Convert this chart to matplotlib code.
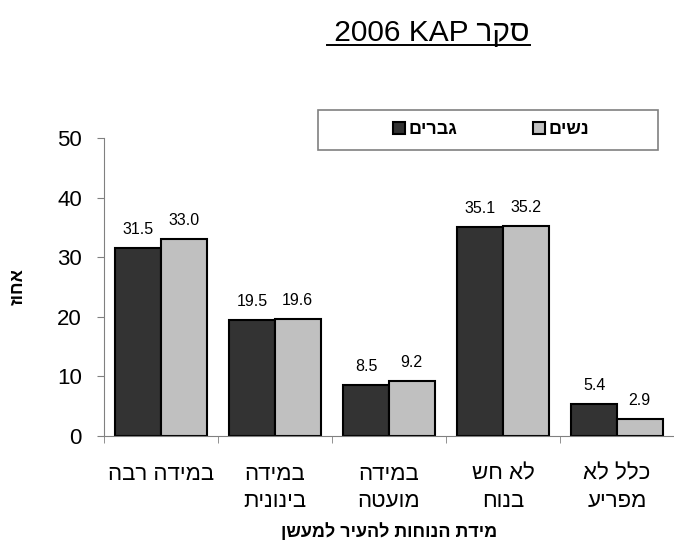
import matplotlib
matplotlib.use("Agg")
import matplotlib.pyplot as plt
import numpy as np
from matplotlib.lines import Line2D
from matplotlib.patches import Rectangle

plt.rcParams['font.family'] = ['Liberation Sans', 'DejaVu Sans']

# data (logical Hebrew order, reversed for display below)
categories = ["במידה רבה", "במידה\nבינונית", "במידה\nמועטה", "לא חש\nבנוח", "כלל לא\nמפריע"]
men = [31.5, 19.5, 8.5, 35.1, 5.4]
women = [33.0, 19.6, 9.2, 35.2, 2.9]
series_names = ["גברים", "נשים"]
y_label = "אחוז"
x_label = "מידת הנוחות להעיר למעשן"
title_word = "סקר"
title_rest = "2006 KAP"


def rtl(s):
    # matplotlib has no bidi support: flip each line of pure Hebrew text
    return "\n".join(line[::-1] for line in s.split("\n"))


W, H = 674, 550
fig = plt.figure(figsize=(W / 100, H / 100), dpi=100)
ax = fig.add_axes([104 / W, (H - 436) / H, 1 - 104 / W, (436 - 138) / H])

x = np.arange(len(categories))
bw = 0.4
dark, light = "#333333", "#c0c0c0"
b1 = ax.bar(x - bw / 2, men, bw, color=dark, edgecolor="black", linewidth=1.5, label=rtl(series_names[0]))
b2 = ax.bar(x + bw / 2, women, bw, color=light, edgecolor="black", linewidth=1.5, label=rtl(series_names[1]))

for bars, vals in ((b1, men), (b2, women)):
    for rect, v in zip(bars, vals):
        ax.annotate(f"{v:.1f}", (rect.get_x() + rect.get_width() / 2, v),
                    xytext=(0, 8), textcoords="offset points",
                    ha="center", va="bottom", fontsize=11.5)

ax.set_xlim(-0.5, len(categories) - 0.5)
ax.set_ylim(0, 50)
ax.set_yticks(range(0, 51, 10))
ax.tick_params(axis="y", direction="out", length=5, color="#808080", labelsize=16, pad=11)
ax.set_xticks(x)
ax.set_xticklabels([rtl(c) for c in categories], fontsize=16, linespacing=1.4)
ax.tick_params(axis="x", which="major", length=0, pad=20)
ax.set_xticks(np.arange(-0.5, len(categories)), minor=True)
ax.tick_params(axis="x", which="minor", direction="out", length=5, color="#808080")

for side in ("top", "right"):
    ax.spines[side].set_visible(False)
for side in ("left", "bottom"):
    ax.spines[side].set_color("#808080")

ax.set_ylabel(rtl(y_label), fontsize=13, fontweight="bold", labelpad=22)
ax.set_xlabel(rtl(x_label), fontsize=13, fontweight="bold", labelpad=8)

# legend inside a separately drawn frame
fig.patches.append(Rectangle((318 / W, (H - 150) / H), 340 / W, 40 / H,
                             transform=fig.transFigure, fill=False,
                             edgecolor="#808080", linewidth=1.2))
fig.legend(loc="center", bbox_to_anchor=(491 / W, (H - 130) / H), ncol=2, frameon=False,
           prop={"weight": "bold", "size": 13}, handlelength=0.65, handleheight=0.65,
           handletextpad=0.2, columnspacing=4.2)

# underlined title
title = fig.text(530 / W, (H - 41) / H, " " + title_rest + " " + rtl(title_word),
                 ha="right", va="baseline", fontsize=21.5)
fig.canvas.draw()
bb = title.get_window_extent()
fig.add_artist(Line2D([bb.x0 / W, bb.x1 / W], [(H - 45) / H] * 2,
                      transform=fig.transFigure, color="black", linewidth=1.4))

fig.savefig("out.png", dpi=100)
